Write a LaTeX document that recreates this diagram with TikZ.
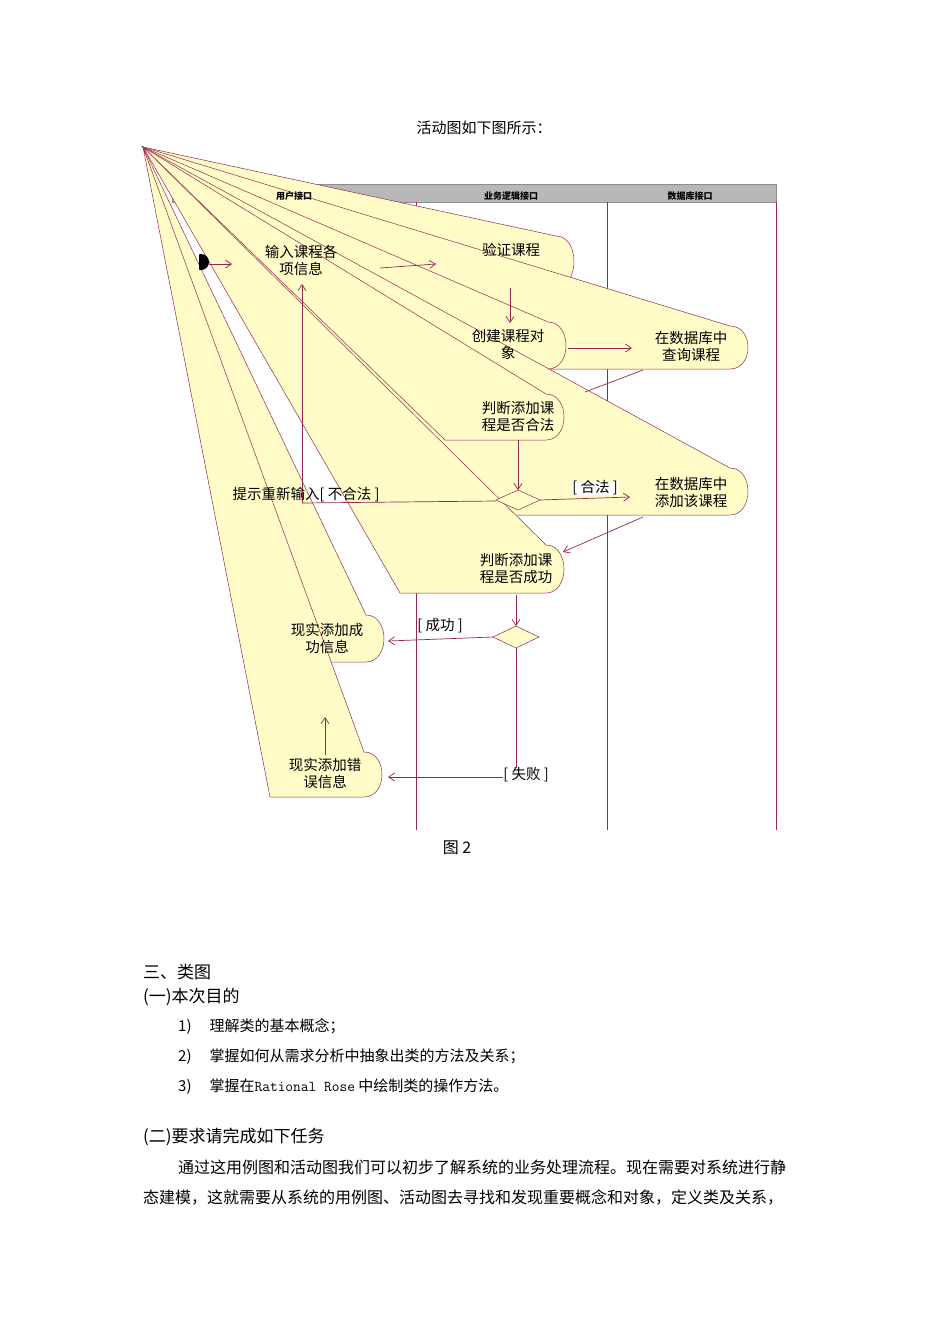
\documentclass[tikz,border=0pt]{standalone}
\usepackage{fontspec}
\setmainfont{Liberation Serif}
\newfontfamily\cjk{Noto Sans CJK SC}
\usetikzlibrary{arrows.meta}
\definecolor{ln}{RGB}{150,40,80}
\definecolor{fillc}{RGB}{255,252,200}
\newcommand\wedgeact[4]{% bottom-left x, right x, top y, bottom y
  \filldraw[act] (143,147) -- (#1,#4) -- ({#2-22},#4) .. controls ({#2+2},#4) and ({#2+2},#3) .. ({#2-22},#3) -- cycle;}
\begin{document}
\begin{tikzpicture}[x=1pt,y=-1pt,
  act/.style={fill=fillc,draw=ln,line width=0.5pt},
  flow/.style={draw=ln,line width=0.7pt,-{Straight Barb[length=6pt,width=8pt]}},
  plain/.style={draw=ln,line width=0.7pt},
  txt/.style={font=\cjk\fontsize{14.5}{17}\selectfont,align=center,inner sep=1pt},
  body/.style={font=\cjk\fontsize{15}{17}\selectfont,anchor=west,inner sep=0pt},
  lane/.style={draw=ln,line width=0.8pt}]
\useasboundingbox (0,0) rectangle (950,1344);
\node[font=\cjk\fontsize{15}{17}\selectfont] (cap1) at (484,128) {活动图如下图所示：};
% swimlanes
\fill[black!28] (172,184) rectangle (776,202);
\draw[black!45] (172,184) rectangle (776,202);
\draw[lane] (416,202) -- (416,830);
\draw[lane] (607,202) -- (607,830);
\draw[lane] (776,202) -- (776,830);
% activities (wedges)
\wedgeact{265}{578}{236}{287}
\wedgeact{250}{360}{236}{283}
\wedgeact{380}{752}{326}{369}
\wedgeact{455}{570}{322}{369}
\wedgeact{470}{752}{468}{515}
\wedgeact{445}{568}{394}{440}
\wedgeact{400}{568}{545}{593}
\wedgeact{300}{388}{615}{662}
\wedgeact{270}{386}{752}{797}
\node[font=\cjk\bfseries\fontsize{9}{10}\selectfont] (l1) at (294,196) {用户接口};
\node[font=\cjk\bfseries\fontsize{9}{10}\selectfont] (l2) at (511,196) {业务逻辑接口};
\node[font=\cjk\bfseries\fontsize{9}{10}\selectfont] (l3) at (690,196) {数据库接口};
% start
\begin{scope}
\clip (199,250) rectangle (215,275);
\fill (201,262) circle (8);
\end{scope}
\coordinate (st) at (209,264);
% text
\node[txt] (a1) at (301,260) {输入课程各\\项信息};
\node[txt] (a2) at (511,250) {验证课程};
\node[txt] (a3) at (508,344) {创建课程对\\象};
\node[txt] (a4) at (691,346) {在数据库中\\查询课程};
\node[txt] (a5) at (518,416) {判断添加课\\程是否合法};
\node[txt] (a6) at (691,493) {在数据库中\\添加该课程};
\node[txt] (a7) at (516,569) {判断添加课\\程是否成功};
\node[txt] (a8) at (327,638) {现实添加成\\功信息};
\node[txt] (a9) at (325,773) {现实添加错\\误信息};
% decisions
\filldraw[act] (496,500) -- (518,490) -- (540,500) -- (518,510) -- cycle;
\coordinate (d1) at (518,500);
\filldraw[act] (493,637) -- (516,626) -- (539,637) -- (516,648) -- cycle;
\coordinate (d2) at (516,637);
% flows
\draw[flow] (st) -- (232,264);
\draw[flow] (380,268) -- (436,264);
\draw[flow] (510,288) -- (510,323);
\draw[flow] (568,348) -- (632,348);
\draw[plain] (643,370) -- (585,392);
\draw[flow] (518,440) -- (518,490);
\draw[flow] (540,500) -- (630,497);
\draw[plain] (496,501) -- (302,503);
\draw[flow] (302,503) -- (302,284);
\draw[flow] (643,517) -- (563,552);
\draw[flow] (516,595) -- (516,626);
\draw[flow] (493,637) -- (388,641);
\draw[plain] (516,648) -- (516,777);
\draw[flow] (516,777) -- (388,777);
\draw[flow] (325,755) -- (325,717);
\node[txt,fill=white,inner sep=0pt] (g1) at (595,488) {[ 合法 ]};
\node[txt] (g2) at (306,495) {提示重新输入[ 不合法 ]};
\node[txt] (g3) at (440,626) {[ 成功 ]};
\node[txt,fill=white,inner sep=0pt] (g4) at (526,775) {[ 失败 ]};
\node[font=\cjk\fontsize{16}{18}\selectfont] (fig) at (457,848) {图 2};
% lower text
\node[body,font=\cjk\fontsize{17}{19}\selectfont] (h3) at (143,972) {三、类图};
\node[body,font=\cjk\fontsize{17}{19}\selectfont] (h31) at (143,997) {(一)本次目的};
\node[body] (i1) at (178,1027) {1)\hspace{18pt}理解类的基本概念；};
\node[body] (i2) at (178,1057) {2)\hspace{18pt}掌握如何从需求分析中抽象出类的方法及关系；};
\node[body] (i3) at (178,1087) {3)\hspace{18pt}掌握在{\ttfamily\fontsize{15}{17}\selectfont Rational Rose} 中绘制类的操作方法。};
\node[body,font=\cjk\fontsize{17}{19}\selectfont] (h32) at (143,1137) {(二)要求请完成如下任务};
\node[body,font=\cjk\fontsize{16}{18}\selectfont] (p1) at (178,1167) {通过这用例图和活动图我们可以初步了解系统的业务处理流程。现在需要对系统进行静};
\node[body,font=\cjk\fontsize{16}{18}\selectfont] (p2) at (143,1197) {态建模，这就需要从系统的用例图、活动图去寻找和发现重要概念和对象，定义类及关系，};
\end{tikzpicture}
\end{document}
